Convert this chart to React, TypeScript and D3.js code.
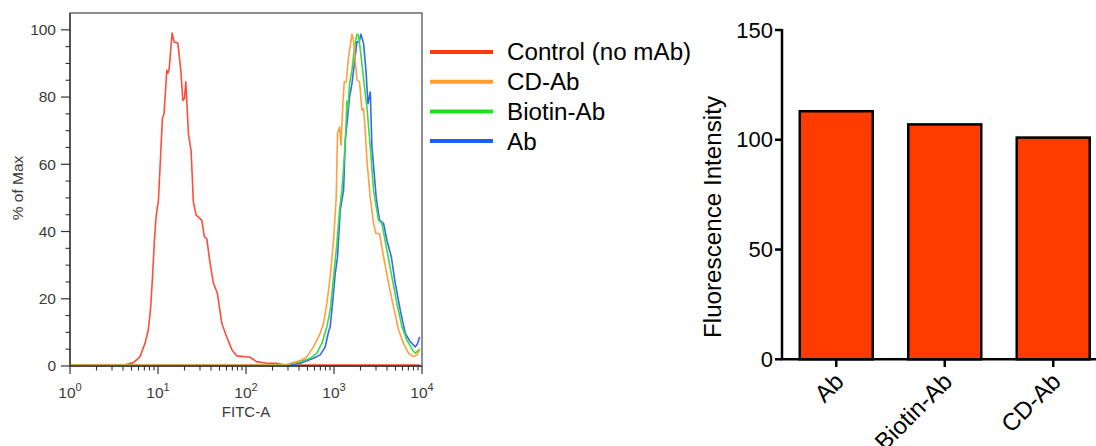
import React from 'react';
import * as d3 from 'd3';

type Pt = [number, number]; // [log10(FITC-A), % of Max]

const controlCurve: Pt[] = [
  [0, 0.3], [0.6, 0.3], [0.645, 0.5], [0.72, 1], [0.796, 2.8], [0.853, 6.8], [0.89, 10.7],
  [0.917, 17.6], [0.94, 27.5], [0.959, 37.4], [0.978, 44.4], [1.005, 49.3], [1.05, 73.6],
  [1.069, 75.1], [1.1, 88], [1.11, 87], [1.126, 88], [1.16, 99], [1.183, 96.4], [1.225, 96.1],
  [1.259, 88], [1.282, 79], [1.3, 79.5], [1.316, 84.5], [1.346, 69], [1.376, 64], [1.402, 48.8],
  [1.433, 44.9], [1.497, 43.4], [1.527, 38.4], [1.554, 37.9], [1.592, 30.5], [1.63, 24.6],
  [1.675, 21.6], [1.725, 12.7], [1.78, 8.7], [1.84, 4.8], [1.896, 3], [2.047, 2.6], [2.12, 1.3],
  [2.24, 0.8], [2.35, 0.8], [2.45, 0.3], [3.975, 0.3],
];

const cdAbCurve: Pt[] = [
  [0, 0.3], [2.45, 0.3], [2.502, 0.8], [2.616, 1.6], [2.692, 2.8], [2.767, 5.7], [2.843, 9.7],
  [2.881, 12.7], [2.919, 18.6], [2.957, 26.5], [2.995, 37.4], [3.025, 50], [3.04, 69.2],
  [3.063, 71.1], [3.079, 65.7], [3.101, 78], [3.116, 84.5], [3.139, 84.5], [3.165, 91.9],
  [3.204, 98.7], [3.222, 96.9], [3.241, 91], [3.26, 85.1], [3.29, 84.5], [3.317, 76.1],
  [3.336, 76.6], [3.355, 70.1], [3.374, 61.2], [3.412, 50], [3.45, 42.4], [3.476, 39.4],
  [3.517, 39.4], [3.563, 32.5], [3.62, 24.6], [3.677, 17.6], [3.734, 10.7], [3.79, 6.7],
  [3.847, 3.8], [3.904, 2.8], [3.943, 3.3], [3.973, 4.8],
];

const biotinAbCurve: Pt[] = [
  [0, 0.3], [2.45, 0.3], [2.54, 0.8], [2.616, 1.3], [2.73, 2.3], [2.805, 3.8], [2.862, 6.7],
  [2.919, 11.7], [2.957, 16.6], [2.995, 26.5], [3.033, 36.5], [3.063, 46.4], [3.09, 52.3],
  [3.128, 66.2], [3.147, 78.7], [3.158, 76.6], [3.177, 84], [3.204, 88], [3.234, 94.9],
  [3.26, 98.7], [3.279, 98.4], [3.317, 90], [3.355, 81], [3.374, 77.1], [3.412, 65.2],
  [3.45, 52], [3.506, 43.4], [3.544, 42.4], [3.601, 34.5], [3.658, 26.5], [3.715, 18.6],
  [3.772, 11.7], [3.829, 7.7], [3.886, 5], [3.924, 3.8], [3.973, 5],
];

const abCurve: Pt[] = [
  [0, 0.3], [2.5, 0.3], [2.616, 0.8], [2.767, 2.3], [2.843, 3.3], [2.9, 5.7], [2.938, 10.2],
  [2.957, 11.7], [2.987, 19.6], [3.014, 27.5], [3.04, 32.5], [3.071, 46.4], [3.109, 52.3],
  [3.128, 67.2], [3.147, 72.1], [3.177, 80], [3.204, 84], [3.222, 88], [3.249, 93.9],
  [3.26, 96.4], [3.287, 96.4], [3.306, 98.7], [3.336, 95.9], [3.363, 88], [3.386, 78],
  [3.412, 81.5], [3.431, 65.2], [3.48, 50], [3.517, 43.4], [3.563, 42.4], [3.601, 37.4],
  [3.651, 32.5], [3.696, 24.6], [3.753, 16.6], [3.81, 9.7], [3.867, 7.2], [3.924, 5.7],
  [3.95, 6.7], [3.973, 8.7],
];

const legendLabels = ['Control (no mAb)', 'CD-Ab', 'Biotin-Ab', 'Ab'];
const legendColors = ['#ff3a10', '#ffa126', '#22dd22', '#1f5cff'];
const curveColors = ['#ff4d3a', '#ffa040', '#3cdc3c', '#3366ff'];

const barCategories = ['Ab', 'Biotin-Ab', 'CD-Ab'];
const barValues = [113, 107, 101];
const barTicks = [0, 50, 100, 150];
const histYTicks = [0, 20, 40, 60, 80, 100];
const histXDecades = [0, 1, 2, 3, 4];

const FONT = '"Liberation Sans", Arial, Helvetica, sans-serif';

export default function App() {
  const W = 1096, H = 446;
  // histogram
  const x = d3.scaleLog().domain([1, 1e4]).range([70, 422]);
  const y = d3.scaleLinear().domain([0, 105]).range([366, 13]);
  const line = d3.line<Pt>().x(d => x(Math.pow(10, d[0]))).y(d => y(d[1]));
  const curves = [controlCurve, cdAbCurve, biotinAbCurve, abCurve];
  const drawOrder = [0, 3, 2, 1];

  const minorY = d3.range(0, 101, 5).filter(v => v % 20 !== 0);
  const minorX: number[] = [];
  for (let e = 0; e < 4; e++) for (let m = 2; m <= 9; m++) minorX.push(m * Math.pow(10, e));

  // bar chart
  const xb = d3.scaleBand().domain(barCategories).range([782, 1107.5]).paddingInner(0.327).paddingOuter(0.1635);
  const yb = d3.scaleLinear().domain([0, 150]).range([359.3, 30]);

  return (
    <svg width={W} height={H} style={{ position: 'absolute', left: 0, top: 0, background: '#fff' }} fontFamily={FONT}>
      <rect x={0} y={0} width={W} height={H} fill="#fff" />
      {/* histogram frame */}
      <rect x={70} y={13} width={352} height={353} fill="none" stroke="#6a6a6a" strokeWidth={1.5} />
      {/* curves */}
      {drawOrder.map(i => (
        <path key={i} d={line(curves[i]) || ''} fill="none" stroke={curveColors[i]} strokeWidth={1.6} strokeLinejoin="round" />
      ))}
      {/* axes */}
      <line x1={70} y1={13} x2={70} y2={366} stroke="#333" strokeWidth={1.3} />
      <line x1={70} y1={366} x2={422} y2={366} stroke="#333" strokeWidth={1.3} />
      {histYTicks.map(v => (
        <g key={v}>
          <line x1={61} x2={70} y1={y(v)} y2={y(v)} stroke="#333" strokeWidth={1.2} />
          <text x={56} y={y(v)} dy="0.35em" textAnchor="end" fontSize={15.5} fill="#3a3a3a">{v}</text>
        </g>
      ))}
      {minorY.map(v => (
        <line key={v} x1={65.5} x2={70} y1={y(v)} y2={y(v)} stroke="#333" strokeWidth={1.1} />
      ))}
      {histXDecades.map(e => (
        <g key={e}>
          <line x1={x(Math.pow(10, e))} x2={x(Math.pow(10, e))} y1={366} y2={374} stroke="#333" strokeWidth={1.2} />
          <text x={x(Math.pow(10, e))} y={398} textAnchor="middle" fontSize={15.5} fill="#3a3a3a">
            10<tspan dy={-7} fontSize={11}>{e}</tspan>
          </text>
        </g>
      ))}
      {minorX.map(v => (
        <line key={v} x1={x(v)} x2={x(v)} y1={366} y2={370.5} stroke="#333" strokeWidth={1.1} />
      ))}
      <text x={246} y={417} textAnchor="middle" fontSize={15} fill="#3a3a3a">FITC-A</text>
      <text transform="translate(23,188) rotate(-90)" textAnchor="middle" fontSize={15.5} fill="#3a3a3a">% of Max</text>

      {/* legend */}
      {legendLabels.map((lab, i) => {
        const ly = 52 + i * 29.7;
        return (
          <g key={lab}>
            <line x1={430} x2={493} y1={ly} y2={ly} stroke={legendColors[i]} strokeWidth={4} />
            <text x={507} y={ly} dy="0.35em" fontSize={24.2} fill="#000">{lab}</text>
          </g>
        );
      })}

      {/* bar chart */}
      {barCategories.map((c, i) => (
        <rect key={c} x={xb(c)!} y={yb(barValues[i])} width={xb.bandwidth()} height={yb(0) - yb(barValues[i])}
          fill="#ff3c00" stroke="#000" strokeWidth={2.5} />
      ))}
      <line x1={782} y1={29} x2={782} y2={359.3} stroke="#000" strokeWidth={2.5} />
      <line x1={781} y1={359.3} x2={1096} y2={359.3} stroke="#000" strokeWidth={2.5} />
      {barTicks.map(v => (
        <g key={v}>
          <line x1={775} x2={782} y1={yb(v)} y2={yb(v)} stroke="#000" strokeWidth={2.5} />
          <text x={773} y={yb(v)} dy="0.35em" textAnchor="end" fontSize={22} fill="#000">{v}</text>
        </g>
      ))}
      {barCategories.map(c => {
        const cx = xb(c)! + xb.bandwidth() / 2;
        return (
          <g key={c}>
            <line x1={cx} x2={cx} y1={359.3} y2={367} stroke="#000" strokeWidth={2.5} />
            <text transform={`translate(${cx + 3},${377}) rotate(-45)`} dy="0.35em" textAnchor="end" fontSize={24} fill="#000">{c}</text>
          </g>
        );
      })}
      <text transform="translate(721,217) rotate(-90)" textAnchor="middle" fontSize={24.2} fill="#000">Fluorescence Intensity</text>
    </svg>
  );
}
